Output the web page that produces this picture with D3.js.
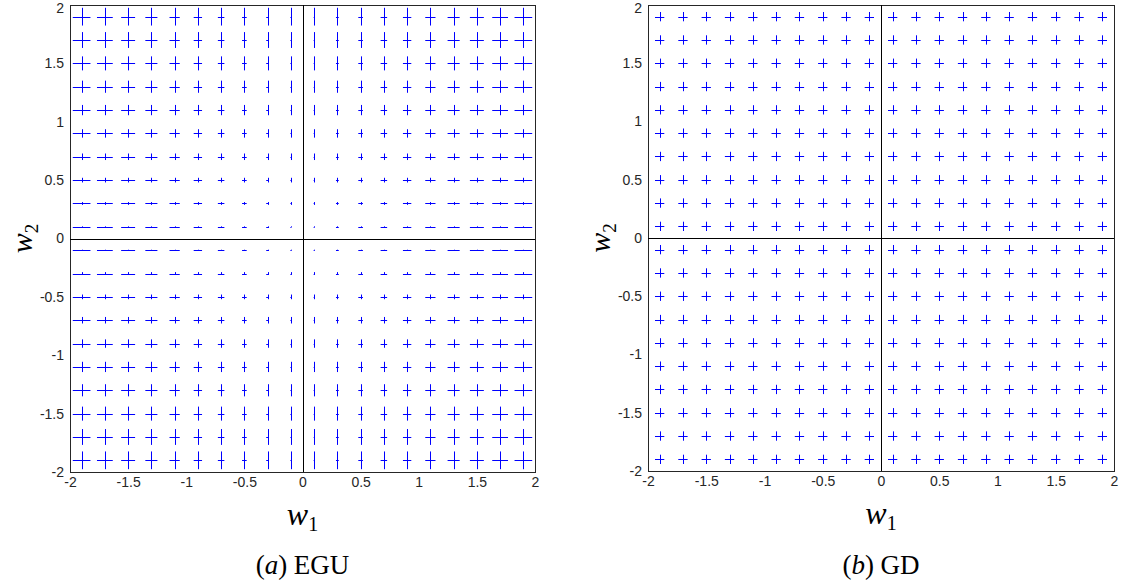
<!DOCTYPE html>
<html>
<head>
<meta charset="utf-8">
<script src="https://cdn.jsdelivr.net/npm/d3@7"></script>
<style>
  html, body { margin: 0; padding: 0; background: #fff; }
  svg { display: block; }
</style>
</head>
<body>
<svg id="chart" width="1122" height="584"></svg>
<script>
// ---- data ----
const gridW1 = [-1.9, -1.7, -1.5, -1.3, -1.1, -0.9, -0.7, -0.5, -0.3, -0.1,
                 0.1, 0.3, 0.5, 0.7, 0.9, 1.1, 1.3, 1.5, 1.7, 1.9];
const gridW2 = [-1.9, -1.7, -1.5, -1.3, -1.1, -0.9, -0.7, -0.5, -0.3, -0.1,
                 0.1, 0.3, 0.5, 0.7, 0.9, 1.1, 1.3, 1.5, 1.7, 1.9];
// EGU: horizontal arm half-length per column (w1), vertical per row (w2), data units
const eguHalfW1 = [0.076, 0.068, 0.060, 0.052, 0.044, 0.036, 0.028, 0.020, 0.012, 0.004,
                   0.004, 0.012, 0.020, 0.028, 0.036, 0.044, 0.052, 0.060, 0.068, 0.076];
const eguHalfW2 = [0.076, 0.068, 0.060, 0.052, 0.044, 0.036, 0.028, 0.020, 0.012, 0.004,
                   0.004, 0.012, 0.020, 0.028, 0.036, 0.044, 0.052, 0.060, 0.068, 0.076];
// GD: uniform arms
const gdHalfW1 = [0.04, 0.04, 0.04, 0.04, 0.04, 0.04, 0.04, 0.04, 0.04, 0.04,
                  0.04, 0.04, 0.04, 0.04, 0.04, 0.04, 0.04, 0.04, 0.04, 0.04];
const gdHalfW2 = [0.04, 0.04, 0.04, 0.04, 0.04, 0.04, 0.04, 0.04, 0.04, 0.04,
                  0.04, 0.04, 0.04, 0.04, 0.04, 0.04, 0.04, 0.04, 0.04, 0.04];
const tickValues = [-2, -1.5, -1, -0.5, 0, 0.5, 1, 1.5, 2];
const tickLabels = ["-2", "-1.5", "-1", "-0.5", "0", "0.5", "1", "1.5", "2"];
const panelLetters = ["a", "b"];
const panelNames = ["EGU", "GD"];

const svg = d3.select("#chart");

function drawPanel(box, halfW1, halfW2, letter, name) {
  const x = d3.scaleLinear().domain([-2, 2]).range([box.left, box.right]);
  const y = d3.scaleLinear().domain([-2, 2]).range([box.bottom, box.top]);
  const g = svg.append("g");

  // frame
  g.append("rect")
    .attr("x", box.left + 0.5).attr("y", box.top + 0.5)
    .attr("width", box.right - box.left).attr("height", box.bottom - box.top)
    .attr("fill", "#fff").attr("stroke", "#262626").attr("stroke-width", 1);

  // crosses
  const pts = [];
  gridW2.forEach((w2, j) => gridW1.forEach((w1, i) => pts.push({w1, w2, hx: halfW1[i], hy: halfW2[j]})));
  const cg = g.append("g").attr("stroke", "#0000ff").attr("stroke-width", 1).attr("fill", "none");
  cg.selectAll("line.h").data(pts).join("line").attr("class", "h")
    .attr("x1", d => x(d.w1 - d.hx)).attr("x2", d => x(d.w1 + d.hx))
    .attr("y1", d => Math.round(y(d.w2)) + 0.5).attr("y2", d => Math.round(y(d.w2)) + 0.5);
  cg.selectAll("line.v").data(pts).join("line").attr("class", "v")
    .attr("x1", d => Math.round(x(d.w1)) + 0.5).attr("x2", d => Math.round(x(d.w1)) + 0.5)
    .attr("y1", d => y(d.w2 - d.hy)).attr("y2", d => y(d.w2 + d.hy));

  // zero lines
  g.append("line").attr("x1", x(-2)).attr("x2", x(2))
    .attr("y1", Math.round(y(0)) + 0.5).attr("y2", Math.round(y(0)) + 0.5)
    .attr("stroke", "#000").attr("stroke-width", 1);
  g.append("line").attr("y1", y(-2)).attr("y2", y(2))
    .attr("x1", Math.round(x(0)) + 0.5).attr("x2", Math.round(x(0)) + 0.5)
    .attr("stroke", "#000").attr("stroke-width", 1);

  // axes
  const fmt = d => tickLabels[tickValues.indexOf(d)];
  const ax = g.append("g").attr("transform", `translate(0,${box.bottom})`)
    .call(d3.axisBottom(x).tickValues(tickValues).tickFormat(fmt).tickSize(0).tickPadding(5));
  const ay = g.append("g").attr("transform", `translate(${box.left},0)`)
    .call(d3.axisLeft(y).tickValues(tickValues).tickFormat(fmt).tickSize(0).tickPadding(6));
  [ax, ay].forEach(a => {
    a.select(".domain").remove();
    a.selectAll("text").attr("font-family", "Liberation Sans, Arial, sans-serif")
      .attr("font-size", 14).attr("fill", "#262626");
  });
  // keep top "2" label inside the picture
  ay.selectAll(".tick text").filter(d => d === 2).attr("dy", "0.55em");

  const cx = (box.left + box.right) / 2;
  const cy = (box.top + box.bottom) / 2;
  // x label
  const xl = g.append("text").attr("x", cx).attr("y", box.bottom + 53)
    .attr("text-anchor", "middle").attr("font-family", "Liberation Serif, Times New Roman, serif").attr("fill", "#000");
  xl.append("tspan").attr("font-style", "italic").attr("font-size", 32).text("w");
  xl.append("tspan").attr("font-size", 20).attr("dy", 6).text("1");
  // y label
  const yl = g.append("text").attr("transform", `translate(${box.left - 38},${cy}) rotate(-90)`)
    .attr("text-anchor", "middle").attr("font-family", "Liberation Serif, Times New Roman, serif").attr("fill", "#000");
  yl.append("tspan").attr("font-style", "italic").attr("font-size", 30).text("w");
  yl.append("tspan").attr("font-size", 19).attr("dy", 6).text("2");

  // caption
  const cap = g.append("text").attr("x", cx).attr("y", 574).attr("text-anchor", "middle")
    .attr("font-family", "Liberation Serif, Times New Roman, serif").attr("font-size", 27).attr("fill", "#000");
  cap.append("tspan").text("(");
  cap.append("tspan").attr("font-style", "italic").text(letter);
  cap.append("tspan").text(") " + name);
}

drawPanel({left: 70, right: 535, top: 5, bottom: 472}, eguHalfW1, eguHalfW2, panelLetters[0], panelNames[0]);
drawPanel({left: 648, right: 1114, top: 5, bottom: 471}, gdHalfW1, gdHalfW2, panelLetters[1], panelNames[1]);
</script>
</body>
</html>
